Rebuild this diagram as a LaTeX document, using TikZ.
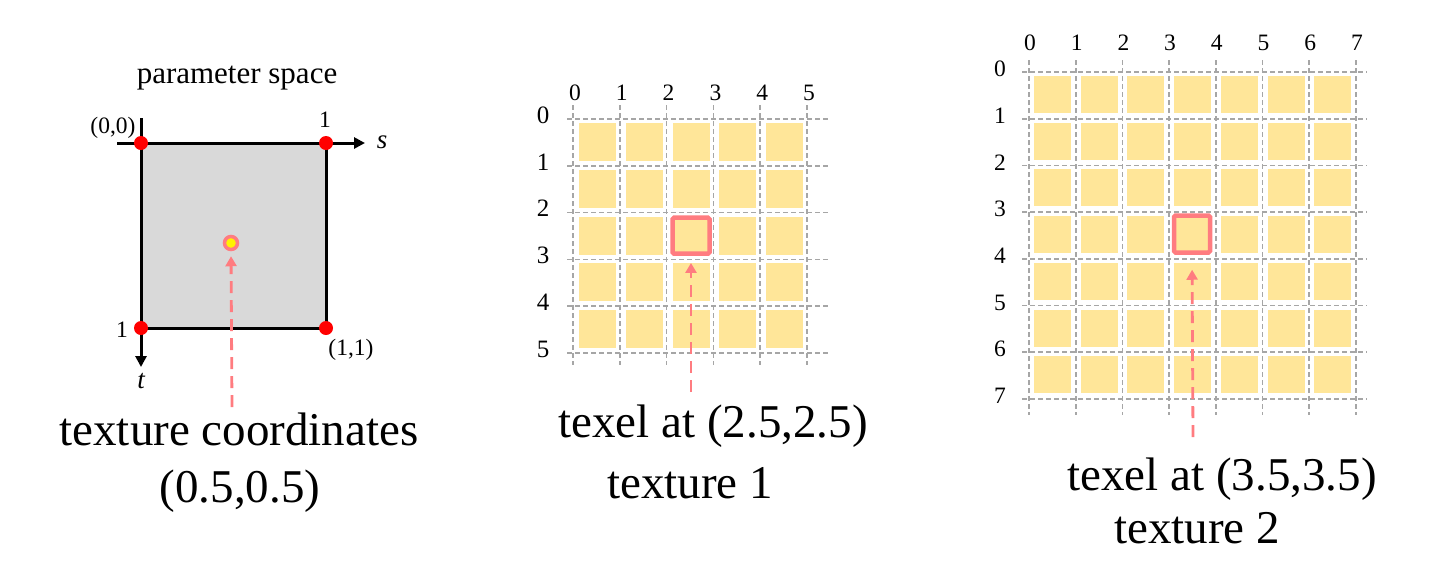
\documentclass[tikz,border=0pt]{standalone}
\usepackage{fontspec}
\setmainfont{Liberation Serif}
\usetikzlibrary{arrows.meta}
\definecolor{texelfill}{RGB}{255,230,153}
\definecolor{pickred}{RGB}{255,124,128}
\definecolor{gridgray}{RGB}{166,166,166}
\definecolor{paramgray}{RGB}{217,217,217}
\tikzset{
  gridline/.style={gridgray, line width=1.7pt, dash pattern=on 5pt off 3pt},
  texel/.style={fill=texelfill},
  picked/.style={draw=pickred, line width=4.5pt, rounded corners=1.5pt, inner sep=0pt},
  lookup/.style={pickred, line width=2.8pt, dash pattern=on 12pt off 7pt,
    -{Triangle[width=11pt,length=10pt]}},
  corner/.style={circle, fill=red, inner sep=0pt, minimum size=14pt},
  axis/.style={line width=3pt, -{Triangle[width=11pt,length=11pt]}},
  digit/.style={font=\fontsize{23.5}{27}\selectfont, inner sep=0pt},
  biglabel/.style={font=\fontsize{47}{52}\selectfont, inner sep=0pt, anchor=base}
}
\begin{document}
\begin{tikzpicture}[x=1pt, y=-1pt]
  \useasboundingbox (0,0) rectangle (1443,582);

  \node[font=\fontsize{31}{35}\selectfont, anchor=base] (ptitle) at (237,83) {parameter space};
  \coordinate (p00) at (141,143);
  \coordinate (p11) at (326,328);
  \fill[paramgray] (p00) rectangle (p11);
  \draw[line width=3pt] (p00) rectangle (p11);
  \draw[axis] (117,143) -- (365,143);
  \draw[axis] (141,118) -- (141,367);
  \node[corner] (c00) at (p00) {};
  \node[corner] (c10) at (326,143) {};
  \node[corner] (c01) at (141,328) {};
  \node[corner] (c11) at (p11) {};
  \node[digit, anchor=base] (l00) at (113,133) {(0,0)};
  \node[digit, anchor=base] (ls1) at (325,127) {1};
  \node[digit] (lt1) at (122,330) {1};
  \node[digit, anchor=base] (l11) at (351,355) {(1,1)};
  \node[font=\fontsize{27}{30}\selectfont\itshape] (saxis) at (382,142) {s};
  \node[font=\fontsize{27}{30}\selectfont\itshape] (taxis) at (141,381) {t};
  \node[circle, fill=yellow, draw=pickred, line width=3.5pt, minimum size=13pt, inner sep=0pt] (uv) at (231,243) {};
  \coordinate (uvfrom) at (232,407);
  \draw[lookup, shorten >=5pt] (uvfrom) -- (uv.south);
  \node[biglabel] (uvtext) at (239,445) {texture coordinates};
  \node[biglabel] (uvval) at (240,502) {(0.5,0.5)};

  \foreach \i in {0,...,4}
    \foreach \j in {0,...,4}
      \fill[texel] (579+\i*46.8,123+\j*46.8) rectangle ++(37,38);
  \foreach \i in {0,...,5} {
    \draw[gridline] (573+\i*46.8,105) -- (573+\i*46.8,365);
    \draw[gridline] (567,119+\i*46.8) -- (828,119+\i*46.8);
    \node[digit] (acol\i) at (575+\i*46.8,93) {\i};
    \node[digit, font=\fontsize{25}{28}\selectfont] (arow\i) at (543,115+\i*46.8) {\i};
  }
  \node[picked, minimum width=37pt, minimum height=36pt] (hitA) at (691,235.7) {};
  \coordinate (hitAfrom) at (691,392);
  \draw[lookup, shorten >=7pt] (hitAfrom) -- (hitA.south);
  \node[biglabel] (texA) at (713,437) {texel at (2.5,2.5)};
  \node[biglabel] (nameA) at (690,498) {texture 1};

  \foreach \i in {0,...,6}
    \foreach \j in {0,...,6}
      \fill[texel] (1034+\i*46.7,76+\j*46.7) rectangle ++(37,37);
  \foreach \i in {0,...,7} {
    \draw[gridline] (1029+\i*46.7,60) -- (1029+\i*46.7,415);
    \draw[gridline] (1022,72+\i*46.7) -- (1367,72+\i*46.7);
    \node[digit] (bcol\i) at (1030+\i*46.7,43) {\i};
    \node[digit] (brow\i) at (1000,69+\i*46.7) {\i};
  }
  \node[picked, minimum width=36pt, minimum height=37pt] (hitB) at (1192,234) {};
  \coordinate (hitBfrom) at (1193,437);
  \draw[lookup, shorten >=15pt] (hitBfrom) -- (hitB.south);
  \node[biglabel] (texB) at (1222,490) {texel at (3.5,3.5)};
  \node[biglabel] (nameB) at (1197,543) {texture 2};
\end{tikzpicture}
\end{document}
